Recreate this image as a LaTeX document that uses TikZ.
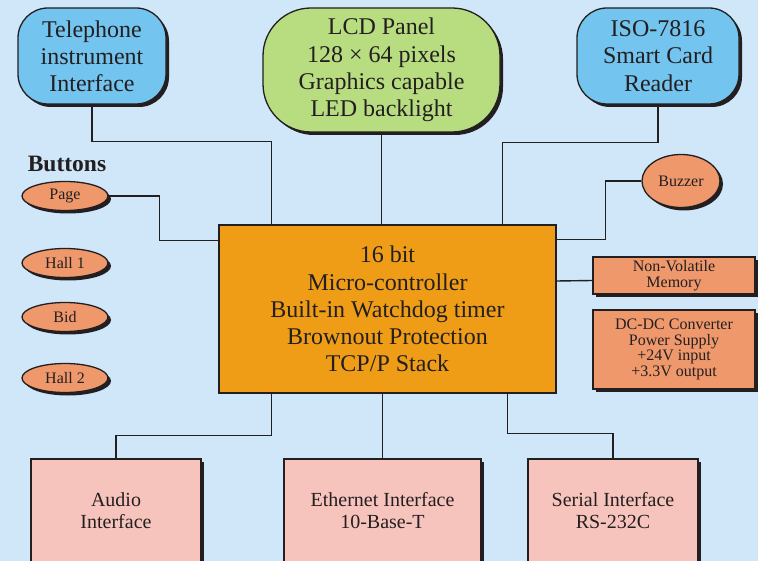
\documentclass[tikz,border=0pt]{standalone}
\usepackage{fontspec}
\setmainfont{Liberation Serif}
\usetikzlibrary{shapes.geometric,shadows,calc}
\definecolor{bg}{RGB}{208,231,249}
\definecolor{ink}{RGB}{35,31,32}
\definecolor{blueb}{RGB}{115,196,238}
\definecolor{greenb}{RGB}{184,220,128}
\definecolor{orangeb}{RGB}{239,157,23}
\definecolor{salmon}{RGB}{238,152,108}
\definecolor{pinkb}{RGB}{247,196,189}
\begin{document}
\begin{tikzpicture}[x=1pt,y=-1pt,
  base/.style={draw=ink, line width=1.3pt, text=ink, align=center, inner sep=0pt},
  shad/.style={drop shadow={shadow xshift=3pt,shadow yshift=-3pt,opacity=1,fill=ink}},
  big/.style={font=\fontsize{24}{27.2}\selectfont},
  small/.style={font=\fontsize{16}{15.8}\selectfont},
  mid/.style={font=\fontsize{20}{22}\selectfont},
  roundbox/.style={base, shad, big, rectangle, rounded corners=30pt},
  btn/.style={base, shad, small, ellipse, fill=salmon, minimum width=86pt, minimum height=29pt},
  sidebox/.style={base, shad, small, rectangle, fill=salmon, minimum width=162pt},
  lowbox/.style={base, shad, mid, rectangle, fill=pinkb, minimum height=104pt},
  wire/.style={draw=ink, line width=1.4pt}
]
\useasboundingbox[fill=bg] (0,0) rectangle (758,561);

\node[roundbox, fill=blueb, minimum width=148pt, minimum height=96pt] (tel) at (92,56) {Telephone\\instrument\\Interface};
\node[roundbox, fill=greenb, rounded corners=48pt, minimum width=237pt, minimum height=124pt] (lcd) at (381.5,70) {LCD Panel\\128 × 64 pixels\\Graphics capable\\LED backlight};
\node[roundbox, fill=blueb, minimum width=162pt, minimum height=96pt] (iso) at (658,56) {ISO-7816\\Smart Card\\Reader};

\node[base, big, fill=orangeb, minimum width=337pt, minimum height=168pt] (mcu) at (387.5,309) {16 bit\\Micro-controller\\Built-in Watchdog timer\\Brownout Protection\\TCP/P Stack};

\node[text=ink, font=\bfseries\fontsize{23.5}{23.5}\selectfont] (btns) at (67,164) {Buttons};
\node[btn] (page) at (65,196) {Page};
\node[btn] (hall1) at (65,263) {Hall 1};
\node[btn] (bid) at (65,317) {Bid};
\node[btn] (hall2) at (65,378) {Hall 2};

\node[btn, minimum width=78pt, minimum height=53pt] (buzzer) at (681,181) {Buzzer};

\node[sidebox, minimum height=37pt] (nvm) at (674,275.5) {Non-Volatile\\Memory};
\node[sidebox, minimum height=79pt] (dcdc) at (674,349.5) {DC-DC Converter\\Power Supply\\+24V input\\+3.3V output};

\node[lowbox, minimum width=170pt] (audio) at (116,511) {Audio\\Interface};
\node[lowbox, minimum width=197pt] (eth) at (382.5,511) {Ethernet Interface\\10-Base-T};
\node[lowbox, minimum width=170pt] (serial) at (613,511) {Serial Interface\\RS-232C};

\draw[wire] (tel.south) -- ++(0,37) -| ($(mcu.north west)+(53,0)$);
\draw[wire] (lcd.south) -- (lcd.south |- mcu.north);
\draw[wire] (iso.south) -- ++(0,38) -| ($(mcu.north east)+(-54,0)$);
\draw[wire] (buzzer.west) -- ++(-36,0) |- ($(mcu.north east)+(0,15)$);
\draw[wire] (page.east) -- ++(51,0) |- ($(mcu.north west)+(0,16)$);
\draw[wire] ($(nvm.west)+(0,5)$) -- ($(mcu.east)+(0,-28)$);
\draw[wire] ($(mcu.south west)+(53,0)$) -- ++(0,42) -| (audio.north);
\draw[wire] (eth.north) -- (eth.north |- mcu.south);
\draw[wire] ($(mcu.south east)+(-49,0)$) -- ++(0,40) -| (serial.north);
\end{tikzpicture}
\end{document}
